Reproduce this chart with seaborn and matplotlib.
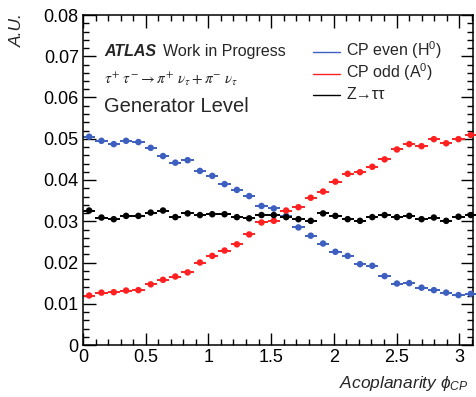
import numpy as np
import pandas as pd
import matplotlib
matplotlib.use("Agg")
import matplotlib.pyplot as plt
import seaborn as sns
from matplotlib.ticker import MultipleLocator, FuncFormatter

# Normalised acoplanarity distributions, 32 bins over [0, pi]
n_bins = 32
cp_even = [0.0505, 0.0495, 0.0487, 0.0495, 0.0492, 0.0478, 0.0458, 0.0442,
           0.0448, 0.0422, 0.0410, 0.0390, 0.0376, 0.0361, 0.0337, 0.0331,
           0.0313, 0.0285, 0.0265, 0.0246, 0.0226, 0.0216, 0.0196, 0.0192,
           0.0167, 0.0149, 0.0150, 0.0139, 0.0133, 0.0127, 0.0121, 0.0124]
cp_odd = [0.0120, 0.0127, 0.0128, 0.0132, 0.0133, 0.0147, 0.0158, 0.0166,
          0.0176, 0.0200, 0.0216, 0.0229, 0.0244, 0.0268, 0.0297, 0.0301,
          0.0326, 0.0334, 0.0357, 0.0372, 0.0396, 0.0415, 0.0419, 0.0432,
          0.0450, 0.0474, 0.0487, 0.0482, 0.0499, 0.0489, 0.0499, 0.0509]
z_tautau = [0.0326, 0.0309, 0.0305, 0.0313, 0.0313, 0.0321, 0.0326, 0.0310,
            0.0319, 0.0315, 0.0317, 0.0317, 0.0310, 0.0307, 0.0315, 0.0315,
            0.0310, 0.0305, 0.0301, 0.0319, 0.0313, 0.0305, 0.0301, 0.0310,
            0.0315, 0.0310, 0.0313, 0.0305, 0.0309, 0.0301, 0.0311, 0.0315]
stat_err = 0.0003

series_names = ["CP even (H$^{0}$)", "CP odd (A$^{0}$)", "Z\u2192\u03c4\u03c4"]
series_colors = ["#3d5fbf", "#ff2121", "#000000"]

edges = np.linspace(0, np.pi, n_bins + 1)
centers = 0.5 * (edges[:-1] + edges[1:])
half_width = 0.5 * (edges[1] - edges[0])

df = pd.DataFrame({
    "phi": np.tile(centers, 3),
    "value": cp_even + cp_odd + z_tautau,
    "sample": np.repeat(series_names, n_bins),
})

sns.set_theme(style="ticks")
plt.rcParams["font.family"] = ["Liberation Sans", "DejaVu Sans"]
plt.rcParams["mathtext.fontset"] = "custom"
plt.rcParams["mathtext.rm"] = "Liberation Sans"
plt.rcParams["mathtext.it"] = "Liberation Sans:italic"

fig = plt.figure(figsize=(4.76, 3.97), dpi=100)
ax = fig.add_axes([83 / 476, 52 / 397, 390 / 476, 330 / 397])

for name, color in zip(series_names, series_colors):
    sub = df[df["sample"] == name]
    ax.errorbar(sub["phi"], sub["value"], xerr=half_width, yerr=stat_err,
                fmt="none", ecolor=color, elinewidth=1.4, capsize=0,
                clip_on=False, zorder=2)
sns.scatterplot(data=df, x="phi", y="value", hue="sample",
                palette=dict(zip(series_names, series_colors)),
                s=22, linewidth=0, legend=False, ax=ax, zorder=3, clip_on=False)

ax.set_xlim(0, 3.11)
ax.set_ylim(0, 0.08)
ax.xaxis.set_major_locator(MultipleLocator(0.5))
ax.xaxis.set_minor_locator(MultipleLocator(0.1))
ax.yaxis.set_major_locator(MultipleLocator(0.01))
ax.yaxis.set_minor_locator(MultipleLocator(0.002))
ax.xaxis.set_major_formatter(FuncFormatter(lambda v, p: "%g" % v))
ax.yaxis.set_major_formatter(FuncFormatter(lambda v, p: "0" if abs(v) < 1e-9 else "%.2f" % v))
ax.tick_params(which="both", direction="in", top=True, right=True, width=1.0,
               color="black", labelsize=13, labelcolor="black", pad=3)
ax.tick_params(which="major", length=9)
ax.tick_params(which="minor", length=4.5)
for sp in ax.spines.values():
    sp.set_linewidth(1.1)
    sp.set_color("black")
ax.set_xlabel("")
ax.set_ylabel("")

# Axis titles
fig.text(17 / 476, 1 - 13 / 397, "A.U.", rotation=90, ha="center", va="top",
         fontsize=12.5, fontstyle="italic")
fig.text(339 / 476, 1 - 388 / 397, r"Acoplanarity $\phi_{CP}$", ha="left",
         va="baseline", fontsize=12.5, fontstyle="italic")

# Labels inside the frame
ax.text(0.055, 0.875, "ATLAS", transform=ax.transAxes, fontsize=11.5,
        fontweight="bold", fontstyle="italic", va="baseline")
ax.text(0.205, 0.875, "Work in Progress", transform=ax.transAxes, fontsize=11.5,
        va="baseline")
ax.text(0.055, 0.79,
        r"$\tau^{+}\ \tau^{-} \rightarrow \pi^{+}\ \nu_{\tau} + \pi^{-}\ \nu_{\tau}$",
        transform=ax.transAxes, fontsize=11, va="baseline",
        math_fontfamily="stix")
ax.text(0.055, 0.705, "Generator Level", transform=ax.transAxes, fontsize=14.5,
        va="baseline")

# Legend
leg_y = [0.875, 0.81, 0.745]
for yy, name, color in zip(leg_y, series_names, series_colors):
    ax.plot([0.59, 0.66], [yy + 0.012, yy + 0.012], transform=ax.transAxes,
            color=color, lw=1.0)
    ax.text(0.675, yy, name, transform=ax.transAxes, fontsize=11.5,
            va="baseline")

fig.savefig("out.png", dpi=100)
